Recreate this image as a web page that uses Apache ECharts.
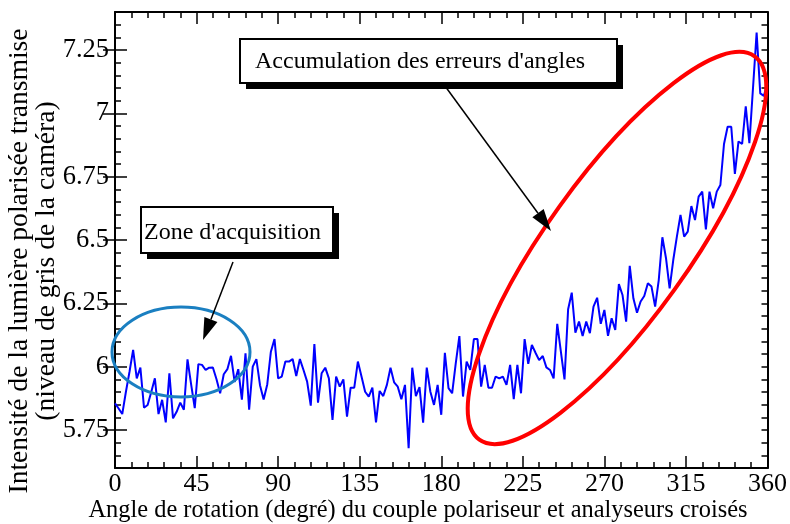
<!DOCTYPE html>
<html><head><meta charset="utf-8">
<script src="https://cdn.jsdelivr.net/npm/echarts@6/dist/echarts.min.js"></script>
<style>html,body{margin:0;padding:0;background:#fff}#c{width:790px;height:524px}</style>
</head><body><div id="c"></div>
<script>
// Rotation angle (degrees)
const angles = [
  0,2,4,6,8,10,12,14,16,18,20,22,24,26,28,30,32,34,36,38,
  40,42,44,46,48,50,52,54,56,58,60,62,64,66,68,70,72,74,76,78,
  80,82,84,86,88,90,92,94,96,98,100,102,104,106,108,110,112,114,116,118,
  120,122,124,126,128,130,132,134,136,138,140,142,144,146,148,150,152,154,156,158,
  160,162,164,166,168,170,172,174,176,178,180,182,184,186,188,190,192,194,196,198,
  200,202,204,206,208,210,212,214,216,218,220,222,224,226,228,230,232,234,236,238,
  240,242,244,246,248,250,252,254,256,258,260,262,264,266,268,270,272,274,276,278,
  280,282,284,286,288,290,292,294,296,298,300,302,304,306,308,310,312,314,316,318,
  320,322,324,326,328,330,332,334,336,338,340,342,344,346,348,350,352,354,356,358,
  360
];
// Transmitted intensity (grey level)
const intensity = [
  5.855,5.835,5.813,5.90,5.98,6.066,5.954,5.996,5.838,5.849,
  5.90,5.954,5.813,5.869,5.78,5.974,5.796,5.822,5.858,5.83,
  6.029,5.93,5.836,6.01,6.007,5.987,5.996,5.997,5.95,5.895,
  5.97,5.99,6.043,5.94,5.99,5.87,6.053,5.83,6.00,6.03,
  5.927,5.87,5.93,6.059,6.109,5.954,5.961,6.02,6.02,6.03,
  5.963,6.03,5.987,5.941,5.846,6.089,5.858,5.974,5.996,5.954,
  5.79,5.961,5.921,5.95,5.803,5.917,5.917,6.02,5.961,5.901,
  5.882,5.917,5.78,5.904,5.884,5.928,5.996,5.938,5.921,5.871,
  5.928,5.678,5.996,5.884,5.919,5.779,5.996,5.901,5.849,5.928,
  5.81,6.055,5.915,5.895,6.013,6.121,5.882,6.02,5.987,6.109,
  6.109,5.921,6.007,5.917,5.917,5.961,5.954,5.961,5.928,6.007,
  5.872,6.007,5.895,6.109,6.011,6.086,6.055,6.026,6.042,5.997,
  5.987,5.954,6.169,6.059,5.95,6.227,6.292,6.134,6.178,6.121,
  6.178,6.132,6.237,6.272,6.169,6.224,6.122,6.191,6.145,6.326,
  6.283,6.178,6.398,6.27,6.213,6.257,6.279,6.329,6.316,6.237,
  6.342,6.511,6.428,6.309,6.421,6.513,6.599,6.513,6.533,6.634,
  6.579,6.671,6.691,6.542,6.691,6.625,6.691,6.717,6.879,6.947,
  6.947,6.761,6.889,6.879,7.028,6.882,7.10,7.319,7.079,7.069,
  7.119
];
const xTicks = [0,45,90,135,180,225,270,315,360];
const yTicks = [5.75,6,6.25,6.5,6.75,7,7.25];
const xTitle = "Angle de rotation (degré) du couple polariseur et analyseurs croisés";
const yTitle1 = "Intensité de la lumière polarisée transmise";
const yTitle2 = "(niveau de gris de la caméra)";
const note1 = "Accumulation des erreurs d'angles";
const note2 = "Zone d'acquisition";

const FONT = 'Liberation Serif';
const chart = echarts.init(document.getElementById('c'), null, {renderer:'canvas'});

const lineBlack = {color:'#000', width:2};
const tickStyle = {color:'#000', width:1.5};
function xAx(pos, labels){
  return {type:'value', position:pos, min:xTicks[0], max:xTicks[xTicks.length-1], interval:45,
    axisLine:{show:true, onZero:false, lineStyle:lineBlack},
    axisTick:{show:true, inside:true, length:12, lineStyle:tickStyle},
    minorTick:{show:true, splitNumber:5, length:6, lineStyle:tickStyle},
    splitLine:{show:false}, minorSplitLine:{show:false},
    axisLabel:{show:labels, color:'#000', fontFamily:FONT, fontSize:26, margin:3}};
}
function yMinor(pos){
  return {type:'value', position:pos, min:5.6, max:7.4, interval:0.05,
    axisLine:{show:true, onZero:false, lineStyle:lineBlack},
    axisTick:{show:true, inside:true, length:6, lineStyle:tickStyle},
    splitLine:{show:false}, axisLabel:{show:false}};
}
function yMajor(pos, labels){
  return {type:'value', position:pos, min:5.6, max:7.4,
    axisLine:{show:false},
    axisTick:{show:true, inside:true, length:12, lineStyle:tickStyle, customValues:yTicks},
    splitLine:{show:false},
    axisLabel:{show:labels, customValues:yTicks, color:'#000', fontFamily:FONT, fontSize:26.5, margin:6}};
}

function arrowHead(x1,y1,x2,y2,len,half){
  const dx=x2-x1, dy=y2-y1, L=Math.sqrt(dx*dx+dy*dy);
  const ux=dx/L, uy=dy/L, bx=x2-ux*len, by=y2-uy*len;
  return [[x2,y2],[bx-uy*half,by+ux*half],[bx+uy*half,by-ux*half]];
}
function arrow(x1,y1,x2,y2){
  const head = arrowHead(x1,y1,x2,y2,22,7);
  return [
    {type:'line', z:100, shape:{x1:x1,y1:y1,x2:(head[1][0]+head[2][0])/2,y2:(head[1][1]+head[2][1])/2}, style:{stroke:'#000', lineWidth:1.5}},
    {type:'polygon', z:100, shape:{points:head}, style:{fill:'#000'}}
  ];
}

const option = {
  animation:false,
  backgroundColor:'#fff',
  grid:{left:115, right:22, top:12, bottom:56, containLabel:false},
  xAxis:[xAx('bottom', true), xAx('top', false)],
  yAxis:[yMinor('left'), yMajor('left', true), yMinor('right'), yMajor('right', false)],
  series:[{
    type:'line', xAxisIndex:0, yAxisIndex:0, showSymbol:false, symbol:'none',
    lineStyle:{color:'#0000ff', width:2}, z:5,
    data: angles.map((a,i)=>[a, intensity[i]])
  }],
  graphic:[
    // axis titles
    {type:'text', z:100, x:418, y:511, style:{text:xTitle, font:'24.4px "'+FONT+'"', fill:'#000', textAlign:'center', textVerticalAlign:'middle'}},
    {type:'text', z:100, x:20, y:261, rotation:Math.PI/2, style:{text:yTitle1, font:'27.6px "'+FONT+'"', fill:'#000', textAlign:'center', textVerticalAlign:'middle'}},
    {type:'text', z:100, x:47, y:261, rotation:Math.PI/2, style:{text:yTitle2, font:'27.6px "'+FONT+'"', fill:'#000', textAlign:'center', textVerticalAlign:'middle'}},
    // ellipses
    {type:'ellipse', z:50, x:181, y:352, shape:{cx:0, cy:0, rx:69, ry:45}, style:{fill:'none', stroke:'#1a7fc1', lineWidth:3}},
    {type:'ellipse', z:50, x:617, y:248, rotation:0.948, shape:{cx:0, cy:0, rx:236, ry:71}, style:{fill:'none', stroke:'#ff0000', lineWidth:4}},
    // note boxes with shadow
    {type:'rect', z:90, shape:{x:246, y:45, width:377, height:44}, style:{fill:'#000'}},
    {type:'rect', z:91, shape:{x:240, y:39, width:377, height:44}, style:{fill:'#fff', stroke:'#000', lineWidth:2}},
    {type:'text', z:92, x:255, y:62, style:{text:note1, font:'24px "'+FONT+'"', fill:'#000', textAlign:'left', textVerticalAlign:'middle'}},
    {type:'rect', z:90, shape:{x:147, y:213, width:192, height:46}, style:{fill:'#000'}},
    {type:'rect', z:91, shape:{x:141, y:207, width:192, height:46}, style:{fill:'#fff', stroke:'#000', lineWidth:2}},
    {type:'text', z:92, x:144, y:233, style:{text:note2, font:'24px "'+FONT+'"', fill:'#000', textAlign:'left', textVerticalAlign:'middle'}}
  ].concat(arrow(233,262,203,340)).concat(arrow(445,86,551,231))
};
chart.setOption(option);
</script>
</body></html>
